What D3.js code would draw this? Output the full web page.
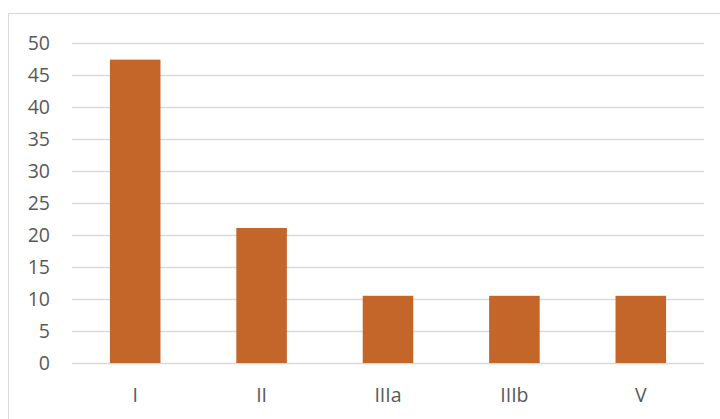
<!DOCTYPE html>
<html>
<head>
<meta charset="utf-8">
<script src="https://cdn.jsdelivr.net/npm/d3@7"></script>
<style>
  html, body { margin: 0; padding: 0; background: #fff; }
  svg { display: block; }
</style>
</head>
<body>
<svg id="chart" width="720" height="419"></svg>
<script>
// Category labels and their values
const categories = ["I", "II", "IIIa", "IIIb", "V"];
const values = [47.4, 21.1, 10.5, 10.5, 10.5];
const yTicks = [0, 5, 10, 15, 20, 25, 30, 35, 40, 45, 50];

const width = 720, height = 419;
const margin = { left: 72, right: 16, top: 43, bottom: 56 };
const fontFamily = "'Open Sans', 'Liberation Sans', sans-serif";

const svg = d3.select("#chart");

// Outer chart-area frame
svg.append("rect")
  .attr("x", 8.5).attr("y", 13.5)
  .attr("width", 740).attr("height", 440)
  .attr("fill", "none")
  .attr("stroke", "#d9d9d9")
  .attr("stroke-width", 1);

const x = d3.scaleBand()
  .domain(categories)
  .range([margin.left, width - margin.right])
  .paddingInner(0.6)
  .paddingOuter(0.3);

const y = d3.scaleLinear()
  .domain([0, 50])
  .range([height - margin.bottom, margin.top]);

// Horizontal gridlines + y labels
const yAxis = d3.axisLeft(y)
  .tickValues(yTicks)
  .tickSize(-(width - margin.right - margin.left))
  .tickPadding(22);

const gy = svg.append("g")
  .attr("transform", `translate(${margin.left},0)`)
  .call(yAxis);
gy.select(".domain").remove();
gy.selectAll(".tick line")
  .attr("stroke", "#d9d9d9")
  .attr("stroke-width", 1.3);
gy.selectAll(".tick text")
  .attr("fill", "#595959")
  .attr("font-family", fontFamily)
  .attr("font-size", "19.5px");

// Bars
svg.append("g")
  .selectAll("rect")
  .data(values)
  .join("rect")
  .attr("x", (d, i) => x(categories[i]))
  .attr("y", d => y(d))
  .attr("width", x.bandwidth())
  .attr("height", d => y(0) - y(d))
  .attr("fill", "#c4652a");

// Category labels
const xAxis = d3.axisBottom(x).tickSize(0).tickPadding(25);
const gx = svg.append("g")
  .attr("transform", `translate(0,${y(0)})`)
  .call(xAxis);
gx.select(".domain").remove();
gx.selectAll(".tick text")
  .attr("fill", "#595959")
  .attr("font-family", fontFamily)
  .attr("font-size", "19.5px");
</script>
</body>
</html>
